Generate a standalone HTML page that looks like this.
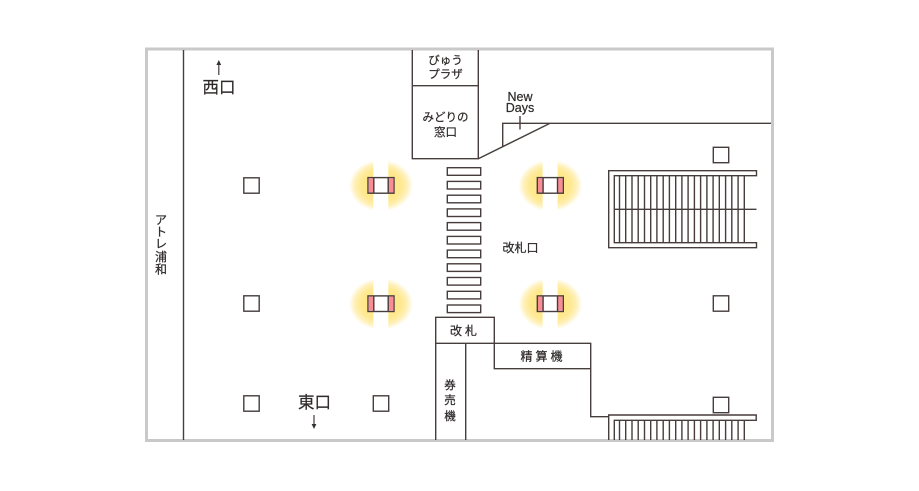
<!DOCTYPE html>
<html lang="ja">
<head>
<meta charset="utf-8">
<style>
html,body{margin:0;padding:0;background:#fff;width:919px;height:491px;overflow:hidden}
svg{display:block}
text{font-family:"Liberation Sans","Noto Sans CJK JP",sans-serif;fill:#2f2a2a;stroke:#2f2a2a;stroke-width:.22}
.l{stroke:#463d3c;stroke-width:1.4;fill:none}
.s{stroke:#463d3c;stroke-width:1.4;fill:#fff}
</style>
</head>
<body>
<svg width="919" height="491" viewBox="0 0 919 491" xmlns="http://www.w3.org/2000/svg">
<defs>
<radialGradient id="g">
<stop offset="0" stop-color="#ffe680"/>
<stop offset="0.62" stop-color="#ffe88e"/>
<stop offset="0.82" stop-color="#fff0b8"/>
<stop offset="1" stop-color="#ffffff"/>
</radialGradient>
<g id="car">
<ellipse cx="0" cy="0" rx="32" ry="26" fill="url(#g)"/>
<rect x="-7.700" y="-27" width="15" height="54" fill="#fff"/>
<rect x="-13" y="-8" width="26" height="15.600" fill="#fff" stroke="#463d3c" stroke-width="1.400"/>
<rect x="-12.300" y="-7.300" width="5" height="14.200" fill="#f88d93"/>
<rect x="7.300" y="-7.300" width="5" height="14.200" fill="#f88d93"/>
<path class="l" d="M-7.200-8V7.600M7.200-8V7.600"/>
</g>
<rect id="sq" x="-7.700" y="-7.700" width="15.400" height="15.400" class="s"/>
</defs>

<rect x="146.500" y="49" width="626" height="391.500" fill="#fff" stroke="#c9c9c9" stroke-width="3"/>

<path class="l" d="M183.500 50V440"/>

<!-- top rooms -->
<path class="l" d="M412.300 50V158.700H478.300V50M412.300 85.700H478.300"/>
<path class="l" d="M478.300 158.700L550 123.300H771M502.700 146.700V123.300H550M520 116V129.500"/>

<!-- stripes -->
<g>
<rect class="s" x="447.300" y="167.700" width="33.400" height="7.600"/>
<rect class="s" x="447.300" y="181.400" width="33.400" height="7.600"/>
<rect class="s" x="447.300" y="195.200" width="33.400" height="7.600"/>
<rect class="s" x="447.300" y="208.900" width="33.400" height="7.600"/>
<rect class="s" x="447.300" y="222.600" width="33.400" height="7.600"/>
<rect class="s" x="447.300" y="236.400" width="33.400" height="7.600"/>
<rect class="s" x="447.300" y="250.100" width="33.400" height="7.600"/>
<rect class="s" x="447.300" y="263.800" width="33.400" height="7.600"/>
<rect class="s" x="447.300" y="277.500" width="33.400" height="7.600"/>
<rect class="s" x="447.300" y="291.300" width="33.400" height="7.600"/>
<rect class="s" x="447.300" y="305" width="33.400" height="7.600"/>
</g>

<!-- gates and machines -->
<path class="l" d="M435.700 440V317.300H494.300V368.700H590.700V343.300H435.700M590.700 368.700V416.700H609M465.700 343.300V440"/>

<!-- upper escalator -->
<path class="l" d="M756.500 170.700H608.700V247.700H756.500V242.700H614.300V175.700H756.500ZM614.300 209.300H756.500"/>
<path class="l" d="M619.500 175.700V242.700M625.700 175.700V242.700M632 175.700V242.700M638.200 175.700V242.700M644.500 175.700V242.700M650.700 175.700V242.700M656.900 175.700V242.700M663.200 175.700V242.700M669.400 175.700V242.700M675.700 175.700V242.700M681.900 175.700V242.700M688.100 175.700V242.700M694.400 175.700V242.700M700.600 175.700V242.700M706.900 175.700V242.700M713.100 175.700V242.700M719.300 175.700V242.700M725.600 175.700V242.700M731.800 175.700V242.700M738.100 175.700V242.700M744.300 175.700V242.700"/>

<!-- lower escalator -->
<path class="l" d="M608.700 440V415H756.200V420.300H614.300V440"/>
<path class="l" d="M619.500 420.300V440M625.700 420.300V440M632 420.300V440M638.200 420.300V440M644.500 420.300V440M650.700 420.300V440M656.900 420.300V440M663.200 420.300V440M669.400 420.300V440M675.700 420.300V440M681.900 420.300V440M688.100 420.300V440M694.400 420.300V440M700.600 420.300V440M706.900 420.300V440M713.100 420.300V440M719.300 420.300V440M725.600 420.300V440M731.800 420.300V440M738.100 420.300V440M744.300 420.300V440"/>

<!-- squares -->
<use href="#sq" x="721" y="155"/>
<use href="#sq" x="251.500" y="185.500"/>
<use href="#sq" x="251.500" y="303.500"/>
<use href="#sq" x="721" y="303.500"/>
<use href="#sq" x="251.500" y="403.500"/>
<use href="#sq" x="381" y="403.500"/>
<use href="#sq" x="721" y="405"/>

<!-- cars -->
<use href="#car" x="381" y="185.600"/>
<use href="#car" x="550.300" y="185.600"/>
<use href="#car" x="381" y="303.900"/>
<use href="#car" x="550.300" y="303.900"/>

<!-- arrows -->
<path class="l" d="M218.800 64V75" style="stroke-width:1.200"/>
<path d="M218.800 60L221.200 65H216.400Z" fill="#333"/>
<path class="l" d="M314 415V425" style="stroke-width:1.200"/>
<path d="M314 429L316.400 424H311.600Z" fill="#333"/>

<!-- labels -->
<g text-anchor="middle">
<text x="219" y="93" font-size="16.500">西口</text>
<text x="314.500" y="408" font-size="16.500">東口</text>
<text x="445.500" y="64" font-size="11.500">びゅう</text>
<text x="445.500" y="78" font-size="11.500">プラザ</text>
<text x="445.500" y="121" font-size="11.500">みどりの</text>
<text x="445.500" y="136" font-size="11.500">窓口</text>
<text x="520" y="101" font-size="12.500">New</text>
<text x="520" y="112" font-size="12.500">Days</text>
<text x="520.500" y="252" font-size="12">改札口</text>
<text x="465" y="335" font-size="12" letter-spacing="3">改札</text>
<text x="543" y="360.500" font-size="12" letter-spacing="3">精算機</text>
<text x="450" y="389" font-size="11.500">券</text>
<text x="450" y="404" font-size="11.500">売</text>
<text x="450" y="420" font-size="11.500">機</text>
<text x="161" y="224" font-size="12">ア</text>
<text x="161" y="236" font-size="12">ト</text>
<text x="161" y="248" font-size="12">レ</text>
<text x="161" y="261" font-size="12">浦</text>
<text x="161" y="273.500" font-size="12">和</text>
</g>
</svg>
</body>
</html>
